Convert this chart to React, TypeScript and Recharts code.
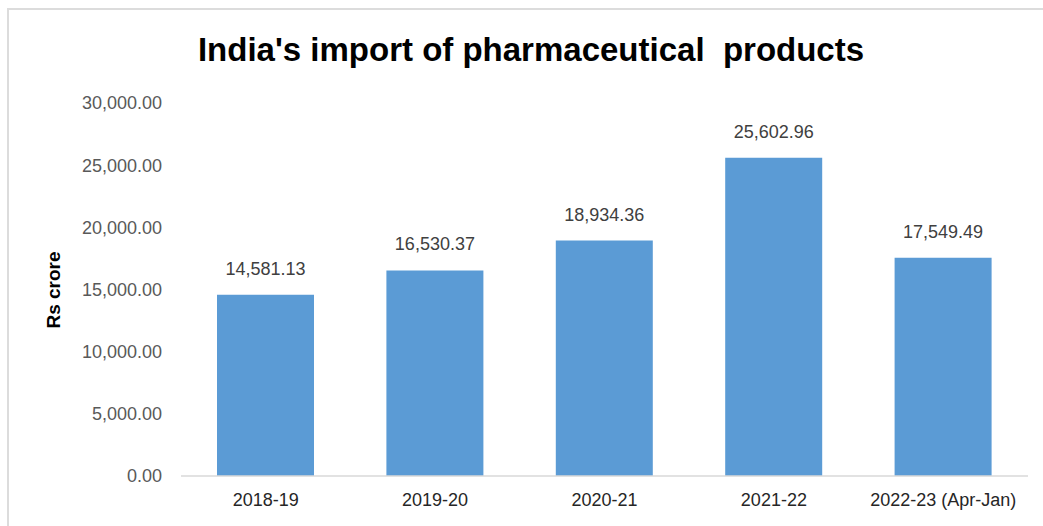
import { BarChart, Bar, XAxis, YAxis, LabelList } from 'recharts'

const years = ['2018-19', '2019-20', '2020-21', '2021-22', '2022-23 (Apr-Jan)']
const imports = [14581.13, 16530.37, 18934.36, 25602.96, 17549.49]
const yTicks = [0, 5000, 10000, 15000, 20000, 25000, 30000]

const chartData = years.map((year, i) => ({ year, value: imports[i] }))

const fmt = (v: number) =>
  Number(v).toLocaleString('en-US', { minimumFractionDigits: 2, maximumFractionDigits: 2 })

const font = '"Liberation Sans", Arial, sans-serif'

export default function App() {
  return (
    <div style={{ position: 'absolute', left: 0, top: 0, width: 1043, height: 526, background: '#fff', fontFamily: font }}>
      <div
        style={{
          position: 'absolute',
          left: 7,
          top: 8,
          width: 1040,
          height: 530,
          borderTop: '2px solid #dcdcdc',
          borderLeft: '2px solid #dcdcdc',
          boxSizing: 'border-box',
        }}
      />
      <BarChart
        width={1043}
        height={526}
        data={chartData}
        margin={{ top: 103, right: 15, bottom: 20, left: 81 }}
        barSize={97}
        style={{ position: 'absolute', left: 0, top: 0 }}
      >
        <text x={531} y={61} textAnchor="middle" fontSize={33} fontWeight="bold" fill="#000" fontFamily={font}>
          India's import of pharmaceutical&#160; products
        </text>
        <text
          x={0}
          y={0}
          transform="translate(60, 290) rotate(-90)"
          textAnchor="middle"
          fontSize={19}
          fontWeight="bold"
          fill="#000"
          fontFamily={font}
        >
          Rs crore
        </text>
        <XAxis
          dataKey="year"
          height={30}
          axisLine={{ stroke: '#d9d9d9', strokeWidth: 1.5 }}
          tickLine={false}
          tickSize={0}
          tickMargin={17}
          tick={{ fontSize: 18, fill: '#262626', fontFamily: font }}
          interval={0}
        />
        <YAxis
          width={100}
          domain={[0, 30000]}
          ticks={yTicks}
          axisLine={false}
          tickLine={false}
          tickSize={0}
          tickMargin={19}
          tickFormatter={fmt}
          tick={{ fontSize: 18, fill: '#595959', fontFamily: font }}
        />
        <Bar dataKey="value" fill="#5b9bd5" isAnimationActive={false}>
          <LabelList
            dataKey="value"
            position="top"
            offset={20}
            formatter={(v: number) => fmt(v)}
            style={{ fontSize: 18, fill: '#404040', fontFamily: font }}
          />
        </Bar>
      </BarChart>
    </div>
  )
}
